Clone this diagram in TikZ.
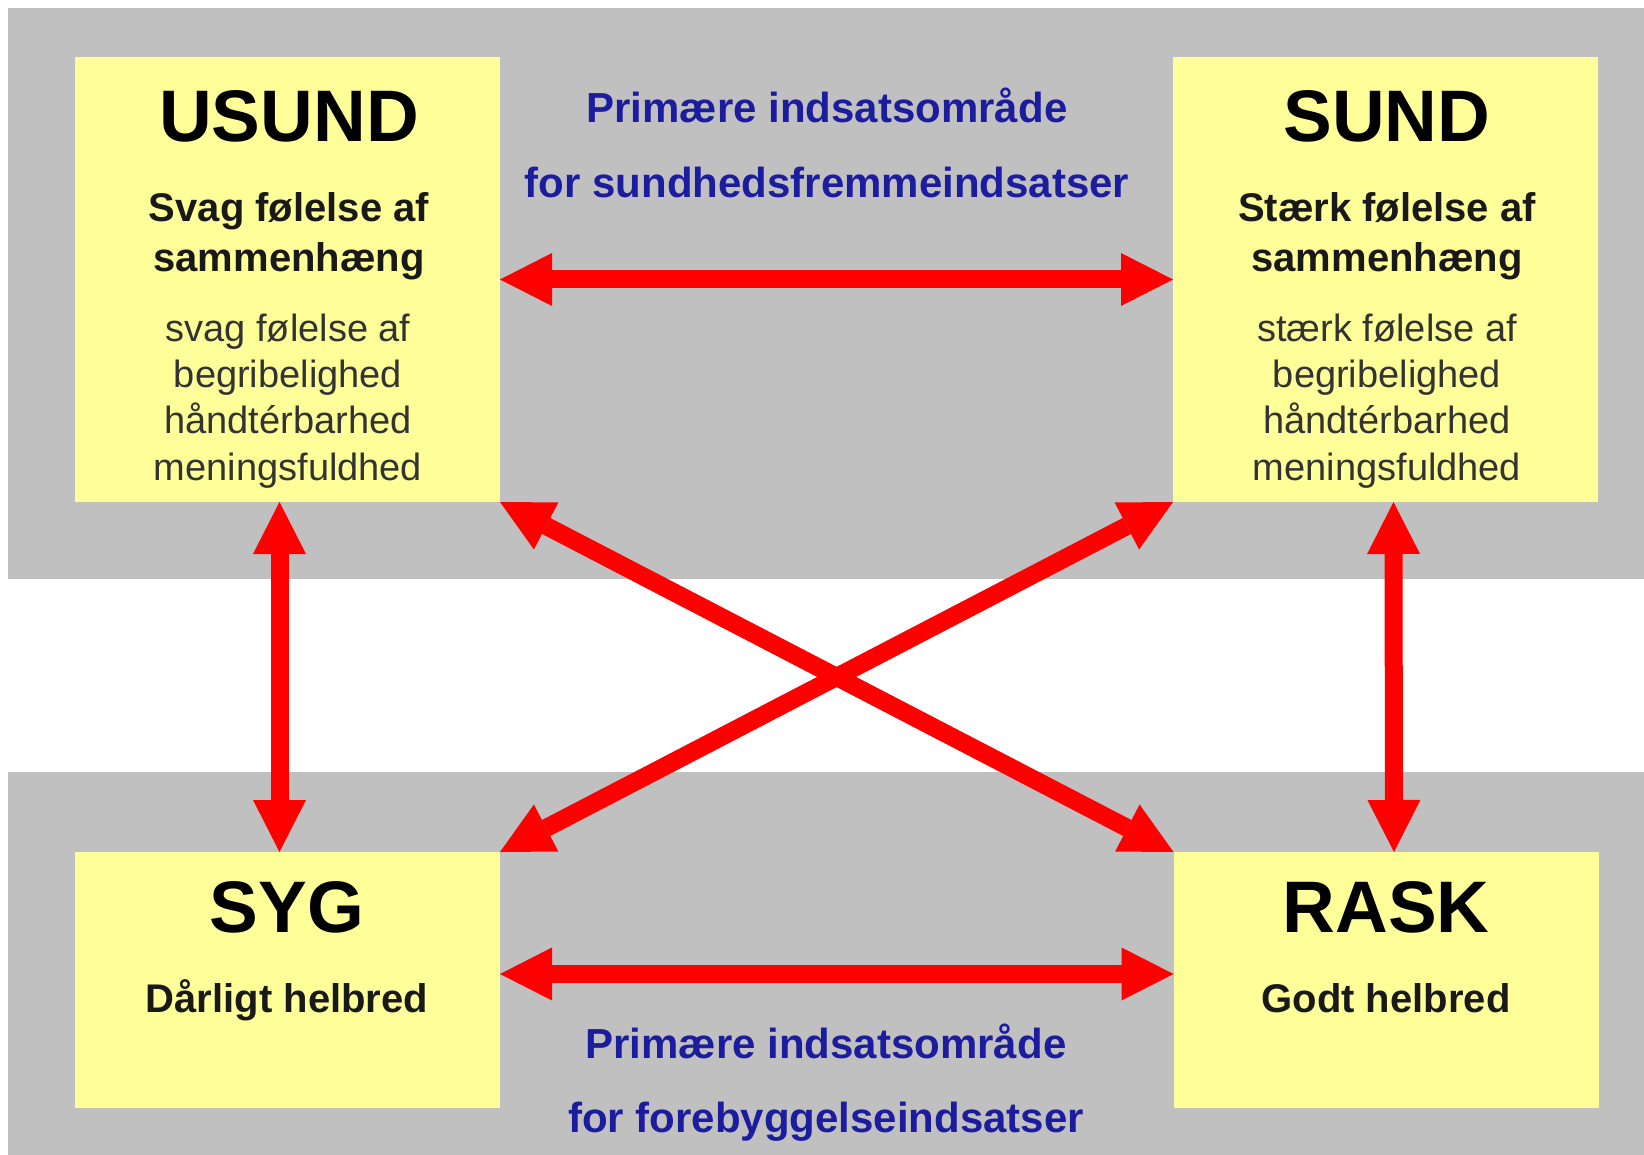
\documentclass[tikz,border=0pt]{standalone}
\usepackage{fontspec}
\setmainfont{Liberation Sans}
\usetikzlibrary{arrows.meta, positioning}

\definecolor{bandgray}{HTML}{C0C0C0}
\definecolor{boxyellow}{HTML}{FFFF99}
\definecolor{linkred}{HTML}{FF0000}
\definecolor{navytext}{HTML}{1C1C9E}

\tikzset{
  box/.style={fill=boxyellow, draw=none, inner sep=0pt, outer sep=0pt, minimum width=425pt},
  head/.style={anchor=base, font=\bfseries\fontsize{73}{80}\selectfont, text=black},
  sub/.style={anchor=base, font=\bfseries\fontsize{40}{46}\selectfont, text=black!90},
  item/.style={anchor=base, font=\fontsize{38}{44}\selectfont, text=black!80},
  focus/.style={anchor=base, font=\bfseries\fontsize{42}{48}\selectfont, text=navytext},
  link/.style={draw=linkred, line width=18pt, >={Triangle[width=53pt, length=52pt, line width=0pt]}, <->}
}

\begin{document}
\begin{tikzpicture}[x=1pt, y=-1pt]
    \useasboundingbox (0,0) rectangle (1644,1155);
    \fill[white] (0,0) rectangle (1644,1155);
    % Grey bands
    \fill[bandgray] (8,8) rectangle (1644,579);
    \fill[bandgray] (8,772) rectangle (1644,1155);

    % Boxes
    \node[box, minimum height=445pt] (usund) at (287.5,279.5) {};
    \node[box, minimum height=445pt] (sund) at (1385.5,279.5) {};
    \node[box, minimum height=256pt] (syg) at (287.5,980) {};
    \node[box, minimum height=256pt] (rask) at (1386,980) {};

    % Arrows
    \draw[link] (usund.east) -- (sund.west);
    \draw[link] ([yshift=6pt]syg.east) -- ([yshift=6pt]rask.west);
    \draw[link] ([xshift=-8pt]usund.south) -- ([xshift=-8pt]syg.north);
    \draw[link] ([xshift=8pt]sund.south) -- ([xshift=8pt]rask.north);
    \draw[link] (usund.south east) -- (rask.north west);
    \draw[link] (sund.south west) -- (syg.north east);

    % Texts in the boxes
    \node[head] (usundtitle) at (289,142) {USUND};
    \node[sub] (usundsub1) at (289,222) {Svag følelse af};
    \node[sub] (usundsub2) at (289,272) {sammenhæng};
    \node[item] (usundi1) at (288,342) {svag følelse af};
    \node[item] (usundi2) at (288,388) {begribelighed};
    \node[item] (usundi3) at (288,434) {håndtérbarhed};
    \node[item] (usundi4) at (288,480) {meningsfuldhed};

    \node[head] (sundtitle) at (1387,142) {SUND};
    \node[sub] (sundsub1) at (1387,222) {Stærk følelse af};
    \node[sub] (sundsub2) at (1387,272) {sammenhæng};
    \node[item] (sundi1) at (1387,342) {stærk følelse af};
    \node[item] (sundi2) at (1387,388) {begribelighed};
    \node[item] (sundi3) at (1387,434) {håndtérbarhed};
    \node[item] (sundi4) at (1387,480) {meningsfuldhed};

    \node[head] (sygtitle) at (287,932) {SYG};
    \node[sub] (sygsub) at (287,1012) {Dårligt helbred};
    \node[head] (rasktitle) at (1386,932) {RASK};
    \node[sub] (rasksub) at (1386,1012) {Godt helbred};

    % Blue labels
    \node[focus] (promo1) at (827,123) {Primære indsatsområde};
    \node[focus] (promo2) at (827,198) {for sundhedsfremmeindsatser};
    \node[focus] (prev1) at (826,1058) {Primære indsatsområde};
    \node[focus] (prev2) at (826,1132) {for forebyggelseindsatser};

\end{tikzpicture}
\end{document}
